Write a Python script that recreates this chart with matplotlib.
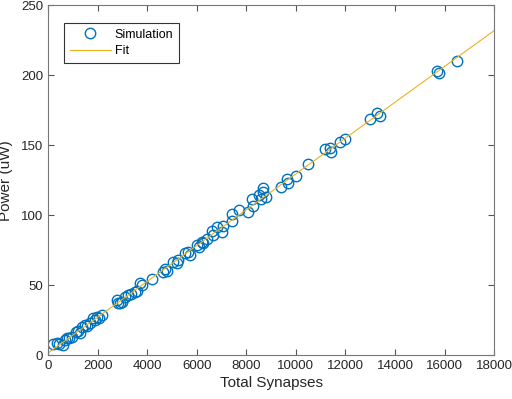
import matplotlib
matplotlib.use('Agg')
import matplotlib.pyplot as plt
import numpy as np

# simulated points
synapses = [214, 351, 450, 618, 686, 755, 850, 957, 1130, 1220, 1291, 1360, 1493, 1580, 1695, 1828,
            1900, 1966, 2050, 2167,
            2773, 2837, 2900, 2975, 3108, 3241, 3350, 3511, 3600, 3713, 3800, 4185, 4654, 4700, 4800,
            5057, 5194, 5250, 5529, 5650, 5731, 6002, 6100, 6203, 6268, 6405, 6607, 6672, 6809,
            7011, 7075, 7414, 7414, 7721, 8060, 8221, 8262, 8528, 8585, 8690, 8690, 8798,
            9404, 9634, 9699, 9997, 10482, 11180, 11382, 11410, 11785, 11999,
            12996, 13291, 13400, 15712, 15793, 16495]
power = [7.6, 8.4, 8.0, 7.1, 10.7, 11.9, 12.0, 12.6, 16.6, 17.5, 15.5, 20.2, 21.4, 21.0, 22.6, 26.2,
         25.0, 27.4, 26.5, 28.6,
         39.3, 36.9, 37.5, 38.1, 41.6, 42.9, 43.5, 45.2, 46.0, 51.2, 50.0, 54.1, 59.5, 61.5, 60.0,
         66.6, 65.5, 68.0, 72.6, 73.5, 71.4, 78.6, 77.5, 80.5, 79.8, 82.9, 88.8, 85.7, 91.3,
         88.1, 92.4, 96.0, 100.9, 103.8, 102.1, 111.2, 106.8, 114.1, 111.7, 119.4, 116.5, 112.9,
         120.1, 126.1, 123.2, 128.0, 136.2, 147.2, 148.2, 145.3, 152.5, 154.4,
         168.8, 172.9, 170.5, 203.3, 201.5, 209.8]

coef = np.polyfit(synapses, power, 1)
xfit = np.array([0, 18000])
yfit = np.polyval(coef, xfit)

plt.rcParams['font.family'] = ['Liberation Sans', 'DejaVu Sans']
fig = plt.figure(figsize=(5.12, 3.99), dpi=100)
ax = fig.add_axes([0.094, 0.110, 0.871, 0.877])

ax.plot(synapses, power, 'o', mfc='none', mec='#0072BD', mew=1.0, ms=7.5, label='Simulation')
ax.plot(xfit, yfit, '-', color='#EDB120', lw=0.8, label='Fit')

ax.set_xlim(0, 18000)
ax.set_ylim(0, 250)
ax.set_xticks(np.arange(0, 18001, 2000))
ax.set_yticks(np.arange(0, 251, 50))
ax.tick_params(direction='in', top=True, right=True, length=4, labelsize=9.5,
               color='#555555', labelcolor='#262626')
for s in ax.spines.values():
    s.set_color('#777777')
    s.set_linewidth(0.8)
ax.set_xlabel('Total Synapses', fontsize=11, labelpad=3, color='#262626')
ax.set_ylabel('Power (uW)', fontsize=11, labelpad=6, color='#262626')

leg = ax.legend(loc='upper left', bbox_to_anchor=(0.036, 0.949), borderaxespad=0,
                fancybox=False, edgecolor='#333333', framealpha=1, fontsize=9,
                handlelength=3.3, handletextpad=0.3, borderpad=0.45, labelspacing=0.35)
leg.get_frame().set_linewidth(0.8)

plt.savefig('out.png', dpi=100)
plt.close()
